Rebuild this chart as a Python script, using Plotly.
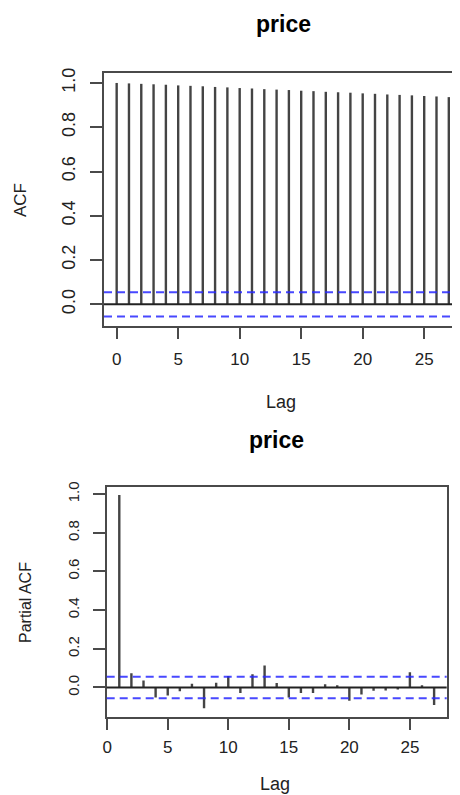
import plotly.graph_objects as go

# ---- data ----
acf_lags = list(range(0, 28))
acf_values = [1.000, 0.998, 0.996, 0.994, 0.992, 0.989, 0.987, 0.985, 0.982, 0.980,
              0.977, 0.975, 0.972, 0.970, 0.968, 0.965, 0.963, 0.960, 0.958, 0.956,
              0.953, 0.951, 0.948, 0.946, 0.944, 0.941, 0.939, 0.936]

pacf_lags = list(range(1, 28))
pacf_values = [0.995, 0.074, 0.036, -0.052, -0.041, -0.019, 0.019, -0.107, 0.024, 0.060,
               -0.029, 0.069, 0.114, 0.023, -0.052, -0.029, -0.029, 0.017, 0.012, -0.069,
               -0.036, -0.017, -0.016, -0.010, 0.079, 0.012, -0.091]

conf_limit = 0.055
x_ticks = [0, 5, 10, 15, 20, 25]
y_ticks = [0.0, 0.2, 0.4, 0.6, 0.8, 1.0]
y_tick_text = ["0.0", "0.2", "0.4", "0.6", "0.8", "1.0"]
title_text = "price"

# the page body has an 8px margin; the figure is sized so it ends at the window edge
OFF = 8
W, H = 460 - OFF, 795 - OFF
FONT = "Liberation Sans, Arial, Helvetica, sans-serif"
AX_COL = "#4a4a4a"
BAR_COL = "#444444"
TXT_COL = "#222222"


def fx(x):  # page pixel -> paper fraction
    return (x - OFF) / W


def fy(y):
    return 1 - (y - OFF) / H


def stems(lags, vals):
    xs, ys = [], []
    for l, v in zip(lags, vals):
        xs += [l, l, None]
        ys += [0, v, None]
    return xs, ys


fig = go.Figure()
ax, ay = stems(acf_lags, acf_values)
fig.add_trace(go.Scatter(x=ax, y=ay, mode="lines", xaxis="x", yaxis="y",
                         line=dict(color=BAR_COL, width=2.4), hoverinfo="skip",
                         showlegend=False))
px_, py_ = stems(pacf_lags, pacf_values)
fig.add_trace(go.Scatter(x=px_, y=py_, mode="lines", xaxis="x2", yaxis="y2",
                         line=dict(color=BAR_COL, width=2.4), hoverinfo="skip",
                         showlegend=False))

# zero line and confidence bands
for xr, yr in (("x", "y"), ("x2", "y2")):
    fig.add_shape(type="line", xref=f"{xr} domain", yref=yr, x0=0, x1=1, y0=0, y1=0,
                  line=dict(color="#222222", width=2))
    for s in (1, -1):
        fig.add_shape(type="line", xref=f"{xr} domain", yref=yr, x0=0, x1=1,
                      y0=s * conf_limit, y1=s * conf_limit,
                      line=dict(color="rgba(40,40,255,0.85)", width=2, dash="8px,5px"))

common_x = dict(showgrid=False, zeroline=False, showline=True, linecolor=AX_COL,
                linewidth=2, ticks="outside", ticklen=11, tickwidth=2, tickcolor=AX_COL,
                tickmode="array", tickvals=x_ticks,
                tickfont=dict(family=FONT, size=17, color=TXT_COL), automargin=False,
                fixedrange=True)
common_y = dict(showgrid=False, zeroline=False, showline=True, linecolor=AX_COL,
                linewidth=2, ticks="outside", ticklen=12, tickwidth=2, tickcolor=AX_COL,
                tickmode="array", tickvals=y_ticks, ticktext=y_tick_text, tickangle=-90,
                automargin=False, fixedrange=True)

fig.update_layout(
    width=W, height=H,
    margin=dict(l=0, r=0, t=0, b=0),
    paper_bgcolor="white", plot_bgcolor="white",
    xaxis=dict(common_x, domain=[fx(104), 1.0], range=[-1.03, 27.91], anchor="y",
               mirror=True, ticklabelstandoff=6),
    yaxis=dict(common_y, domain=[fy(326), fy(73)], range=[-0.098, 1.045],
               anchor="x", mirror=False,
               tickfont=dict(family=FONT, size=18, color=TXT_COL), ticklabelstandoff=8),
    xaxis2=dict(common_x, domain=[fx(106.7), fx(446.7)], range=[-0.04, 28.04], anchor="y2",
                mirror=True, ticklabelstandoff=3),
    yaxis2=dict(common_y, domain=[fy(716.7), fy(486.7)], range=[-0.151, 1.038],
                anchor="x2", mirror=True,
                tickfont=dict(family=FONT, size=15, color=TXT_COL), ticklabelstandoff=8),
)


def ann(text, x, y, size, bold=False, angle=0):
    fig.add_annotation(text=f"<b>{text}</b>" if bold else text, x=fx(x), y=fy(y),
                       xref="paper", yref="paper", xanchor="center", yanchor="middle",
                       showarrow=False, textangle=angle,
                       font=dict(family=FONT, size=size, color="#000000" if bold else TXT_COL))


ann(title_text, 283, 24, 23, bold=True)
ann(title_text, 276, 440, 23, bold=True)
ann("ACF", 20, 200, 17, angle=-90)
ann("Partial ACF", 25, 603, 16, angle=-90)
ann("Lag", 281, 402, 18)
ann("Lag", 275, 784, 18)

fig.write_html("out.html")
